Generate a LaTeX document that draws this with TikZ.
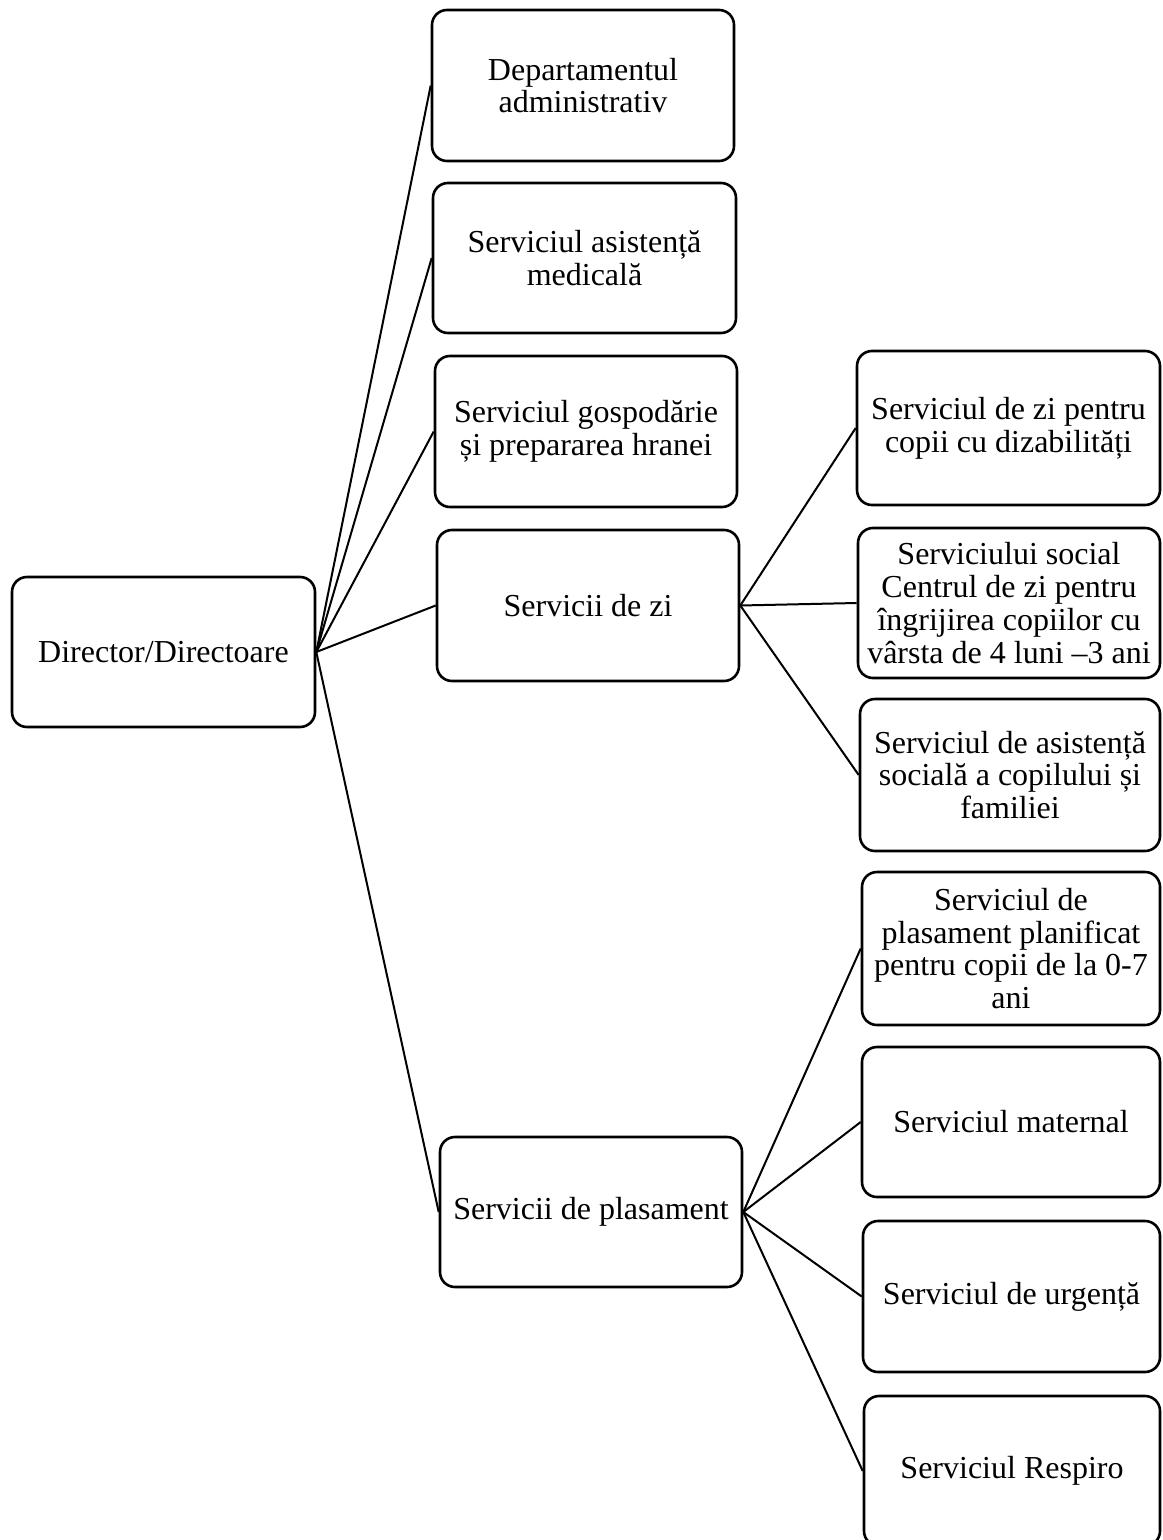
\documentclass[tikz,border=0pt]{standalone}
\usepackage{fontspec}
\setmainfont{Liberation Serif}
\begin{document}
\begin{tikzpicture}[x=0.5pt,y=-0.5pt,
  box/.style={draw=black, line width=1.3pt, rounded corners=7.5pt, inner sep=0pt,
    align=center, font=\fontsize{16}{16.4}\selectfont},
  link/.style={draw=black, line width=1pt}]
\useasboundingbox (0,0) rectangle (1162,1540);
\fill[white] (0,0) rectangle (1162,1540);
\node[box, minimum width=151.5pt, minimum height=75pt] (dir) at (163.5,652) {Director/Directoare};
\node[box, minimum width=151pt, minimum height=75.5pt] (adm) at (583,85.5) {Departamentul\\administrativ};
\node[box, minimum width=151.5pt, minimum height=75pt] (med) at (584.5,258) {Serviciul asistență\\medicală};
\node[box, minimum width=151pt, minimum height=75.5pt] (gos) at (586,431.5) {Serviciul gospodărie\\și prepararea hranei};
\node[box, minimum width=151pt, minimum height=75.5pt] (zi) at (588,605.5) {Servicii de zi};
\node[box, minimum width=151pt, minimum height=75pt] (pla) at (591,1212) {Servicii de plasament};
\node[box, minimum width=151.5pt, minimum height=77pt] (r1) at (1008.5,428) {Serviciul de zi pentru\\copii cu dizabilități};
\node[box, minimum width=151pt, minimum height=75pt] (r2) at (1009,603) {Serviciului social\\Centrul de zi pentru\\îngrijirea copiilor cu\\vârsta de 4 luni –3 ani};
\node[box, minimum width=150pt, minimum height=76pt] (r3) at (1010,775) {Serviciul de asistență\\socială a copilului și\\familiei};
\node[box, minimum width=149pt, minimum height=76.5pt] (r4) at (1011,948.5) {Serviciul de\\plasament planificat\\pentru copii de la 0-7\\ani};
\node[box, minimum width=149pt, minimum height=75pt] (r5) at (1011,1122) {Serviciul maternal};
\node[box, minimum width=148.5pt, minimum height=75.5pt] (r6) at (1011.5,1296.5) {Serviciul de urgență};
\node[box, minimum width=148pt, minimum height=75pt] (r7) at (1012,1471) {Serviciul Respiro};
\foreach \t in {adm,med,gos,zi,pla} \draw[link] (dir.east) -- (\t.west);
\foreach \t in {r1,r2,r3} \draw[link] (zi.east) -- (\t.west);
\foreach \t in {r4,r5,r6,r7} \draw[link] (pla.east) -- (\t.west);
\end{tikzpicture}
\end{document}
